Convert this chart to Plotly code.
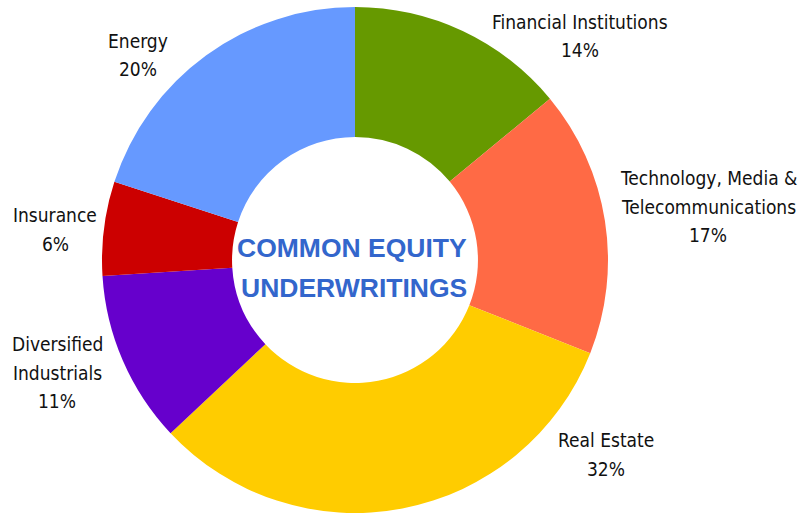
import plotly.graph_objects as go

categories = ["Financial Institutions", "Technology, Media & Telecommunications",
              "Real Estate", "Diversified Industrials", "Insurance", "Energy"]
values = [14, 17, 32, 11, 6, 20]
label_lines = [["Financial Institutions"], ["Technology, Media &", "Telecommunications"],
               ["Real Estate"], ["Diversified", "Industrials"], ["Insurance"], ["Energy"]]
colors = ["#669900", "#FF6A45", "#FFCC00", "#6600CC", "#CC0000", "#6699FF"]
center_lines = ["COMMON EQUITY", "UNDERWRITINGS"]

W, H = 802, 514
# label anchor positions in pixels (center x, first-line center y)
label_pos = [(580, 22), (708, 178), (606, 440), (57, 344), (55, 215), (138, 41)]
LINE = 28.5

fig = go.Figure(go.Pie(
    labels=categories, values=values, marker=dict(colors=colors, line=dict(width=0)),
    hole=0.486, sort=False, direction="clockwise", rotation=0,
    textinfo="none", hoverinfo="label+percent", showlegend=False,
    domain=dict(x=[102 / W, 608 / W], y=[1 / H, 507 / H]),
))

font_lbl = dict(family="DejaVu Sans Condensed, Liberation Sans Narrow, sans-serif", size=19, color="#111111")
ann = []
total = sum(values)
for lines, v, (px, py) in zip(label_lines, values, label_pos):
    all_lines = lines + ["%d%%" % round(100 * v / total)]
    for j, t in enumerate(all_lines):
        ann.append(dict(text=t, x=px / W, y=1 - (py + LINE * j) / H, xref="paper", yref="paper",
                        xanchor="center", yanchor="middle", showarrow=False, font=font_lbl))
center_pos = [(351.5, 248), (354, 288)]
for line, (px, py) in zip(center_lines, center_pos):
    ann.append(dict(text="<b>%s</b>" % line, x=px / W, y=1 - py / H, xref="paper", yref="paper",
                    xanchor="center", yanchor="middle", showarrow=False,
                    font=dict(family="Liberation Sans, Arial, sans-serif", size=26.5, color="#3366CC")))

fig.update_layout(width=W, height=H, margin=dict(l=0, r=0, t=0, b=0),
                  paper_bgcolor="white", plot_bgcolor="white", annotations=ann)
fig.write_html("out.html", post_script="document.body.style.margin='0';",
               config={"displayModeBar": False})
